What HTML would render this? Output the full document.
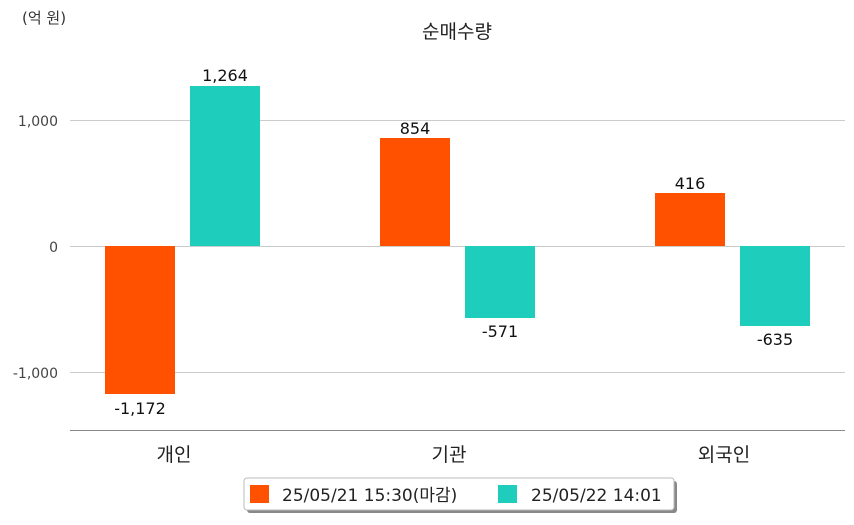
<!DOCTYPE html>
<html><head><meta charset="utf-8"><style>
body{margin:0;background:#fff;width:854px;height:520px;overflow:hidden}
svg text{font-family:"DejaVu Sans","Noto Sans CJK KR",sans-serif}
</style></head><body>
<svg width="854" height="520" xmlns="http://www.w3.org/2000/svg">
<text x="22" y="23" font-size="15" fill="#333">(억 원)</text>
<text x="457" y="38" font-size="19" fill="#222" text-anchor="middle">순매수량</text>
<g stroke="#ccc" stroke-width="1">
<line x1="70" y1="120.5" x2="845" y2="120.5"/>
<line x1="70" y1="246.5" x2="845" y2="246.5"/>
<line x1="70" y1="372.5" x2="845" y2="372.5"/>
</g>
<line x1="70" y1="430.5" x2="845" y2="430.5" stroke="#888" stroke-width="1"/>
<g font-size="14" fill="#444" text-anchor="end">
<text x="58" y="126">1,000</text><text x="58" y="252">0</text><text x="58" y="378">-1,000</text>
</g>
<g fill="#ff5100">
<rect x="105" y="246" width="70" height="148"/>
<rect x="380" y="138" width="70" height="108"/>
<rect x="655" y="193" width="70" height="53"/>
</g>
<g fill="#1ecdbb">
<rect x="190" y="86" width="70" height="160"/>
<rect x="465" y="246" width="70" height="72"/>
<rect x="740" y="246" width="70" height="80"/>
</g>
<g font-size="16" fill="#111" text-anchor="middle" font-weight="500">
<text x="140" y="414">-1,172</text>
<text x="225" y="81">1,264</text>
<text x="415" y="134">854</text>
<text x="500" y="337">-571</text>
<text x="690" y="189">416</text>
<text x="775" y="345">-635</text>
</g>
<g font-size="19" fill="#222" text-anchor="middle">
<text x="174" y="461">개인</text><text x="449" y="461">기관</text><text x="724" y="461">외국인</text>
</g>
<rect x="247" y="481" width="430" height="32" rx="3" fill="#888"/>
<rect x="244" y="478" width="430" height="32" rx="3" fill="#fff" stroke="#bbb"/>
<rect x="250" y="485" width="19" height="18" fill="#ff5100"/>
<text x="282" y="501" font-size="17" fill="#222">25/05/21 15:30(마감)</text>
<rect x="498" y="485" width="19" height="18" fill="#1ecdbb"/>
<text x="531" y="501" font-size="17" fill="#222">25/05/22 14:01</text>
</svg>
</body></html>
